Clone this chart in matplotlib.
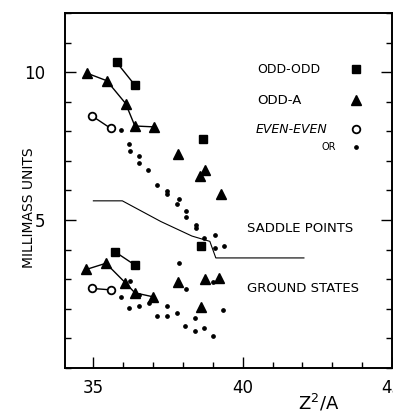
import matplotlib
matplotlib.use("Agg")
import matplotlib.pyplot as plt
from matplotlib.ticker import MultipleLocator, FixedLocator

# ---- saddle points (upper group) ----
sp_oddodd_line_x = [35.78, 36.39]
sp_oddodd_line_y = [10.33, 9.56]
sp_oddodd_x = [38.67, 38.61]
sp_oddodd_y = [7.73, 4.13]

sp_odda_line_x = [34.80, 35.45, 36.08, 36.39, 37.03]
sp_odda_line_y = [9.96, 9.71, 8.94, 8.18, 8.15]
sp_odda_x = [37.83, 38.75, 38.56, 39.26]
sp_odda_y = [7.25, 6.69, 6.50, 5.87]

sp_even_x = [34.97, 35.58]
sp_even_y = [8.51, 8.10]

sp_dots_x = [35.92, 36.19, 36.22, 36.53, 36.53, 36.83, 37.13, 37.47, 37.47,
             37.86, 37.80, 38.09, 38.09, 38.42, 38.42, 38.70, 39.06, 39.06, 39.39]
sp_dots_y = [8.04, 7.56, 7.32, 7.16, 6.94, 6.69, 6.18, 5.98, 5.87,
             5.70, 5.56, 5.31, 5.11, 4.83, 4.72, 4.41, 4.50, 4.04, 4.12]

# smooth saddle point curve
saddle_x = [35.0, 35.97, 37.26, 38.3, 38.9, 39.1, 42.05]
saddle_y = [5.65, 5.65, 4.95, 4.46, 4.28, 3.72, 3.72]

# ---- ground states (lower group) ----
gs_oddodd_line_x = [35.72, 36.39]
gs_oddodd_line_y = [3.93, 3.48]

gs_odda_line_x = [34.76, 35.42, 36.07, 36.39, 36.98]
gs_odda_line_y = [3.33, 3.54, 2.88, 2.54, 2.41]
gs_odda_x = [37.83, 38.75, 39.22, 38.61]
gs_odda_y = [2.92, 3.00, 3.03, 2.07]

gs_even_x = [34.94, 35.59]
gs_even_y = [2.69, 2.64]

gs_dots_x = [36.22, 35.92, 36.52, 36.19, 36.52, 36.87, 37.13, 37.47, 37.47,
             37.80, 37.86, 38.11, 38.06, 38.39, 38.39, 38.72, 39.02, 39.02, 39.34]
gs_dots_y = [2.94, 2.41, 2.47, 2.02, 2.11, 2.18, 1.76, 2.09, 1.76,
             1.87, 3.54, 2.66, 1.42, 1.70, 1.25, 1.36, 2.92, 1.08, 1.96]

fig = plt.figure(figsize=(3.93, 4.15), dpi=100)
ax = fig.add_axes([0.1654, 0.1133, 0.8321, 0.8554])

k = "black"
sq = dict(marker="s", ms=6, color=k, ls="none")
tri = dict(marker="^", ms=7, color=k, ls="none")
circ = dict(marker="o", ms=5.5, mfc="white", mec=k, mew=1.3, ls="none")
dot = dict(marker="o", ms=2.4, color=k, ls="none")

for lx, ly, sx, sy, style in [
    (sp_oddodd_line_x, sp_oddodd_line_y, sp_oddodd_x, sp_oddodd_y, sq),
    (sp_odda_line_x, sp_odda_line_y, sp_odda_x, sp_odda_y, tri),
    (gs_odda_line_x, gs_odda_line_y, gs_odda_x, gs_odda_y, tri),
]:
    ax.plot(lx, ly, color=k, lw=1.0)
    ax.plot(lx, ly, **style)
    ax.plot(sx, sy, **style)

ax.plot(gs_oddodd_line_x, gs_oddodd_line_y, color=k, lw=1.0)
ax.plot(gs_oddodd_line_x, gs_oddodd_line_y, **sq)

for ex, ey in [(sp_even_x, sp_even_y), (gs_even_x, gs_even_y)]:
    ax.plot(ex, ey, color=k, lw=1.0, zorder=1)
    ax.plot(ex, ey, **circ)

ax.plot(sp_dots_x, sp_dots_y, **dot)
ax.plot(gs_dots_x, gs_dots_y, **dot)

ax.plot(saddle_x, saddle_y, color=k, lw=0.8)

# legend (hand placed)
mx = 43.79
ax.text(40.5, 10.1, "ODD-ODD", fontsize=9, va="center")
ax.plot([mx], [10.1], **sq)
ax.text(40.5, 9.05, "ODD-A", fontsize=9.5, va="center")
ax.plot([mx], [9.05], **tri)
ax.text(40.45, 8.07, "EVEN-EVEN", fontsize=9, va="center", style="italic")
ax.plot([mx], [8.07], **circ)
ax.text(43.12, 7.47, "OR", fontsize=7, va="center", ha="right")
ax.plot([mx], [7.47], **dot)

ax.text(40.15, 4.73, "SADDLE POINTS", fontsize=9.5, va="center")
ax.text(40.15, 2.70, "GROUND STATES", fontsize=9.5, va="center")

ax.set_xlim(34.05, 45)
ax.set_ylim(0, 12)
ax.xaxis.set_major_locator(FixedLocator([35, 40, 45]))
ax.xaxis.set_minor_locator(MultipleLocator(1))
ax.yaxis.set_major_locator(FixedLocator([5, 10]))
ax.yaxis.set_minor_locator(MultipleLocator(1))
ax.tick_params(which="both", direction="in", right=True, width=1.0)
ax.tick_params(which="major", length=8, labelsize=12)
ax.tick_params(which="minor", length=4)
ax.tick_params(axis="y", which="major", pad=14)
ax.tick_params(axis="x", which="major", pad=8)
for s in ax.spines.values():
    s.set_linewidth(1.4)

fig.text(0.075, 0.5, "MILLIMASS UNITS", rotation=90, fontsize=10,
         ha="center", va="center")
fig.text(0.81, 0.03, "Z$^2$/A", fontsize=13, ha="center", va="center")

fig.savefig("out.png", dpi=100)
